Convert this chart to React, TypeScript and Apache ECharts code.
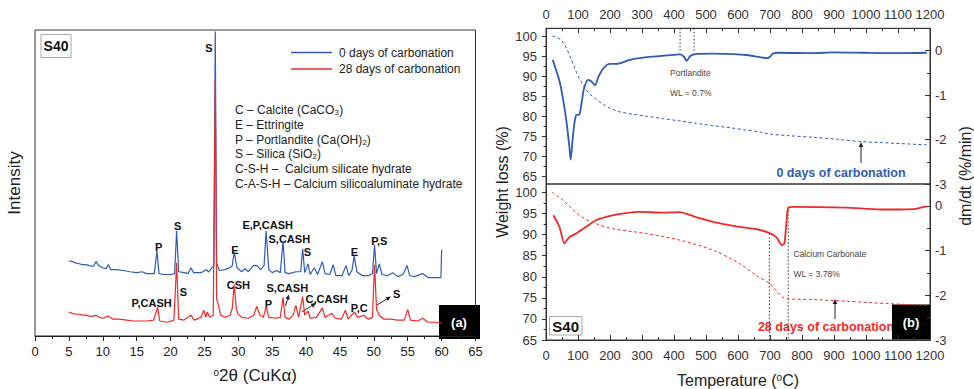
import React, { useEffect, useRef } from 'react';
import * as echarts from 'echarts';

// ---------- XRD (panel a) ----------
const xrdTickValues = [0, 5, 10, 15, 20, 25, 30, 35, 40, 45, 50, 55, 60, 65];
const xrd0days: number[][] = [
  [5, 24.6], [5.5, 24.3], [6, 23.9], [6.5, 23.6], [7, 23.3], [7.5, 23.3], [8, 23.0], [8.6, 22.7], [9, 24.3], [9.4, 23.0],
  [10, 22.3], [10.5, 22.0], [10.8, 23.3], [11.2, 21.7], [12, 21.7], [13, 21.4], [14, 21.0], [15, 20.7], [15.8, 21.0], [16.5, 20.4],
  [17.6, 20.4], [18.0, 27.8], [18.3, 20.4], [19, 20.1], [20, 20.1], [20.6, 20.4], [20.9, 34.3], [21.2, 21.0], [22, 20.7], [22.6, 20.4],
  [23, 22.3], [23.4, 20.7], [24.5, 20.7], [25.3, 21.7], [25.6, 20.9], [26, 22.0], [26.4, 23.0], [26.6, 99.5], [26.8, 23.9], [27.2, 21.4],
  [28, 21.7], [28.7, 22.3], [29.1, 22.9], [29.4, 27.5], [29.8, 22.3], [30.5, 21.0], [31, 22.0], [31.5, 21.0], [32.2, 23.0], [32.8, 23.0],
  [33.3, 21.7], [33.8, 23.0], [34.1, 34.3], [34.5, 21.7], [35, 20.7], [35.7, 21.4], [36.2, 20.7], [36.6, 31.1], [36.9, 20.7], [37.5, 20.4],
  [38.5, 21.0], [39.2, 21.0], [39.5, 28.5], [39.8, 20.7], [40.3, 23.6], [40.6, 20.1], [41.2, 22.3], [41.7, 20.1], [42.4, 24.3], [42.8, 20.4],
  [43.5, 20.1], [44, 23.3], [44.4, 19.7], [45.3, 19.7], [45.9, 23.0], [46.3, 19.7], [46.8, 21.7], [47.1, 26.2], [47.5, 21.0], [48.3, 19.7],
  [49.2, 19.7], [49.8, 20.4], [50.1, 29.8], [50.4, 20.4], [50.8, 23.6], [51.2, 20.1], [52, 19.7], [52.8, 20.7], [53.5, 19.4], [54.3, 20.1],
  [54.9, 23.0], [55.3, 19.7], [56, 19.4], [57.2, 20.4], [58, 19.1], [59, 19.1], [59.9, 19.1], [60, 28.2]
];
const xrd28days: number[][] = [
  [5, 7.8], [5.5, 7.4], [6, 7.1], [6.5, 7.1], [7, 6.8], [7.5, 6.8], [8, 6.5], [8.6, 6.5], [9, 6.8], [9.5, 6.1],
  [10, 5.8], [10.8, 6.5], [11.5, 5.5], [12.5, 5.5], [13.5, 5.2], [14.5, 4.9], [15.5, 4.9], [16.5, 4.9], [17.5, 5.2], [18.1, 9.4],
  [18.4, 4.9], [19.5, 4.5], [20.5, 5.2], [20.9, 23.9], [21.2, 5.5], [22, 5.2], [23, 6.8], [23.5, 5.2], [24.5, 6.1], [24.9, 8.4],
  [25.2, 6.1], [25.4, 7.8], [25.8, 6.1], [26.3, 6.8], [26.6, 83.8], [26.8, 12], [27, 10.7], [27.4, 6.8], [28, 6.1], [28.8, 6.8],
  [29.1, 9], [29.4, 16.8], [29.7, 9], [29.9, 7.4], [30.5, 6.1], [31.5, 5.8], [32.3, 6.8], [32.7, 9.7], [33.2, 6.8], [33.7, 6.1],
  [34.1, 9.7], [34.5, 6.1], [35.5, 5.8], [36.2, 6.1], [36.6, 12.6], [36.9, 6.1], [37.5, 5.5], [38.1, 6.8], [38.5, 10.0], [38.9, 6.1],
  [39.5, 12.9], [39.8, 6.8], [40.3, 8.1], [40.6, 5.8], [41.5, 6.1], [42.4, 9.1], [42.8, 6.1], [43.3, 6.8], [43.8, 7.4], [44.3, 5.8],
  [45.2, 5.5], [45.8, 8.4], [46.2, 5.5], [47.1, 7.8], [47.6, 6.1], [48.5, 6.8], [49.2, 5.5], [49.8, 6.1], [50.1, 23.3], [50.4, 8.7],
  [50.8, 6.8], [51.5, 5.5], [52.5, 5.5], [53.5, 5.2], [54.5, 5.2], [55, 8.7], [55.4, 5.2], [56.5, 4.9], [57.2, 5.8], [58, 4.5],
  [59, 4.5], [60, 4.2]
];
const phaseKey = [
  'C – Calcite (CaCO₃)',
  'E – Ettringite',
  'P – Portlandite (Ca(OH)₂)',
  'S – Silica (SiO₂)',
  'C-S-H –  Calcium silicate hydrate',
  'C-A-S-H – Calcium silicoaluminate hydrate'
];

// ---------- TGA / DTG (panel b) ----------
const wlTicks = [65, 70, 75, 80, 85, 90, 95, 100];
const wlMinorTicks = [67.5, 72.5, 77.5, 82.5, 87.5, 92.5, 97.5];
const dtgTicks = [-3, -2, -1, 0];
const dtgMinorTicks = [-2.5, -1.5, -0.5];

const tg0days: number[][] = [
  [20, 100.1], [45, 99.2], [60, 97.6], [75, 95.0], [90, 92.0], [104, 89.5], [120, 87.2], [136, 85.6], [160, 84.0], [177, 83.0],
  [200, 82.0], [229, 81.1], [270, 80.5], [313, 80.0], [365, 79.4], [417, 78.8], [470, 78.2], [522, 77.6], [575, 77.1], [626, 76.5],
  [670, 76.0], [699, 75.5], [760, 75.1], [835, 74.7], [910, 74.2], [991, 73.6], [1090, 73.2], [1190, 72.8]
];
const dtg0days: number[][] = [
  [21, -0.21], [44, -0.74], [62, -1.49], [73, -2.16], [77, -2.45], [85, -1.86], [94, -1.45], [104, -1.44], [111, -1.19], [119, -0.85],
  [132, -0.66], [143, -0.7], [153, -0.78], [164, -0.59], [179, -0.4], [200, -0.3], [221, -0.3], [262, -0.21], [315, -0.15], [378, -0.11],
  [419, -0.085], [431, -0.14], [440, -0.23], [450, -0.13], [466, -0.08], [523, -0.07], [585, -0.08], [627, -0.1], [669, -0.15], [692, -0.17],
  [700, -0.14], [709, -0.07], [731, -0.05], [835, -0.06], [898, -0.04], [991, -0.05], [1096, -0.06], [1190, -0.05]
];
const tg28days: number[][] = [
  [19, 100.1], [52, 98.2], [80, 96.2], [104, 94.6], [127, 93.5], [156, 92.6], [208, 91.4], [313, 90.25], [417, 88.7], [522, 86.3],
  [605, 83.1], [657, 80.3], [699, 78.4], [751, 74.8], [835, 74.6], [939, 74.2], [1075, 73.6], [1190, 73.2]
];
const dtg28days: number[][] = [
  [23, -0.21], [42, -0.47], [57, -0.84], [65, -0.77], [73, -0.7], [94, -0.62], [125, -0.47], [156, -0.32], [208, -0.21], [250, -0.16],
  [292, -0.135], [365, -0.15], [417, -0.14], [469, -0.25], [522, -0.36], [595, -0.46], [657, -0.52], [699, -0.61], [720, -0.7], [730, -0.82],
  [737, -0.88], [745, -0.84], [751, -0.4], [757, -0.04], [772, -0.02], [939, -0.04], [1043, -0.08], [1148, -0.07], [1190, -0.01]
];
const portlanditeBounds = [419, 463];
const carbonateBounds = [698, 757];

const BLUE = '#2F5DB3';
const RED = '#EE2A2A';
const FONT = '"Liberation Sans", Arial, sans-serif';

function arrow(x1: number, y1: number, x2: number, y2: number, color = '#222') {
  const ang = Math.atan2(y2 - y1, x2 - x1);
  const len = 5, w = 2.3;
  const bx = x2 - len * Math.cos(ang), by = y2 - len * Math.sin(ang);
  const px = -Math.sin(ang) * w, py = Math.cos(ang) * w;
  return [
    { type: 'line', silent: true, shape: { x1, y1, x2: bx, y2: by }, style: { stroke: color, lineWidth: 1 } },
    { type: 'polygon', silent: true, shape: { points: [[x2, y2], [bx + px, by + py], [bx - px, by - py]] }, style: { fill: color } }
  ];
}

function txt(x: number, y: number, text: string, opts: any = {}, rotation = 0) {
  return {
    type: 'text', silent: true, x, y, rotation,
    style: {
      text, fontFamily: FONT, fontSize: 11, fontWeight: 'bold', fill: '#111',
      align: 'center', verticalAlign: 'middle', ...opts
    }
  };
}

function dotted(xVals: number[], yTop: number[], yBottom: number[], xAxisIndex: number, yAxisIndex: number, name: string) {
  return xVals.map((xv, i) => ({
    name: name + i, type: 'line', xAxisIndex, yAxisIndex, symbol: 'none', silent: true,
    data: [[xv, yTop[i]], [xv, yBottom[i]]],
    lineStyle: { type: [1.5, 2], color: '#333', width: 1 }, z: 1
  }));
}

const peakLabels: [number, number, string][] = [
  [209, 48, 'S'], [158.7, 247, 'P'], [177.7, 226, 'S'], [267.7, 224.5, 'E,P,CASH'], [235, 250, 'E'],
  [289.3, 239.3, 'S,CASH'], [307.3, 252.3, 'S'], [354.3, 252.3, 'E'], [379.3, 241, 'P,S'],
  [238.3, 285.3, 'CSH'], [183.3, 291.7, 'S'], [151.7, 302.7, 'P,CASH'], [268.3, 304.3, 'P'],
  [287.3, 288.3, 'S,CASH'], [326.7, 299.3, 'C,CASH'], [359.3, 308.3, 'P,C'], [396.7, 294.3, 'S']
];

function buildOption() {
  const graphics: any[] = [];
  graphics.push({ type: 'rect', silent: true, shape: { x: 41, y: 34.5, width: 30, height: 23 }, style: { fill: '#fff', stroke: '#aaa', lineWidth: 1 } });
  graphics.push(txt(56, 46, 'S40', { fontSize: 14 }));
  phaseKey.forEach((s, i) => {
    graphics.push(txt(235, 110 + i * 14.8, s, { fontSize: 12, fontWeight: 'normal', align: 'left', fill: '#222' }));
  });
  peakLabels.forEach(([x, y, s]) => graphics.push(txt(x, y, s)));
  graphics.push(...arrow(285.5, 306, 289, 294.5));
  graphics.push(...arrow(302, 312, 316, 303));
  graphics.push(...arrow(377, 305, 391, 296.5));
  graphics.push({ type: 'rect', silent: true, shape: { x: 439, y: 305, width: 41, height: 34 }, style: { fill: '#000' } });
  graphics.push(txt(459, 322.5, '(a)', { fontSize: 13, fill: '#fff' }));

  graphics.push(txt(670, 73, 'Portlandite', { fontSize: 8.5, fontWeight: 'normal', align: 'left', fill: '#444' }));
  graphics.push(txt(670, 92.5, 'WL = 0.7%', { fontSize: 8.5, fontWeight: 'normal', align: 'left', fill: '#444' }));
  graphics.push(txt(793.5, 254, 'Calcium Carbonate', { fontSize: 8.5, fontWeight: 'normal', align: 'left', fill: '#444' }));
  graphics.push(txt(793.5, 274, 'WL = 3.78%', { fontSize: 8.5, fontWeight: 'normal', align: 'left', fill: '#444' }));
  graphics.push(txt(841, 173, '0 days of carbonation', { fontSize: 12.5, fill: BLUE }));
  graphics.push(...arrow(861, 163, 861, 142));
  graphics.push(txt(826, 327, '28 days of carbonation', { fontSize: 12.5, fill: RED }));
  graphics.push(...arrow(835, 319, 835, 299));
  graphics.push({ type: 'rect', silent: true, shape: { x: 892, y: 304.5, width: 38, height: 35 }, style: { fill: '#000' } });
  graphics.push(txt(911, 322, '(b)', { fontSize: 13, fill: '#fff' }));
  graphics.push({ type: 'rect', silent: true, shape: { x: 549.5, y: 316.5, width: 32.5, height: 18.5 }, style: { fill: '#fff', stroke: '#aaa', lineWidth: 1 } });
  graphics.push(txt(565.7, 326, 'S40', { fontSize: 15 }));
  graphics.push(txt(502, 182, 'Weight loss (%)', { fontSize: 16, fontWeight: 'normal', fill: '#222' }, Math.PI / 2));
  graphics.push(txt(965, 176, 'dm/dt (%/min)', { fontSize: 16, fontWeight: 'normal', fill: '#222' }, Math.PI / 2));

  const baseLabel = { fontFamily: FONT, fontSize: 13, color: '#333' };
  const plainNum = (v: number) => String(v);
  const tempAxis = (gridIndex: number, position: 'top' | 'bottom', showName: boolean) => ({
    type: 'value', gridIndex, position, min: 0, max: 1200, interval: 100,
    axisLine: { show: true, onZero: false, lineStyle: { color: '#333', width: 1 } },
    axisTick: { show: true, inside: true, length: 5, lineStyle: { color: '#333' } },
    minorTick: { show: true, splitNumber: 2, length: 3, lineStyle: { color: '#333' } },
    axisLabel: { ...baseLabel, margin: position === 'top' ? 7 : 9, formatter: plainNum },
    splitLine: { show: false },
    name: showName ? 'Temperature ({o|o}C)' : '',
    nameLocation: 'middle', nameGap: 32,
    nameTextStyle: { fontFamily: FONT, fontSize: 16, color: '#222', rich: { o: { fontFamily: FONT, fontSize: 10, verticalAlign: 'top', color: '#222' } } }
  });
  const wlAxis = (gridIndex: number, min: number, max: number) => ({
    type: 'value', gridIndex, position: 'left', min, max,
    axisLine: { show: true, onZero: false, lineStyle: { color: '#333' } },
    axisTick: { show: true, inside: false, length: 4, customValues: wlTicks, lineStyle: { color: '#333' } },
    axisLabel: { ...baseLabel, margin: 9, customValues: wlTicks, formatter: plainNum },
    splitLine: { show: false }
  });
  const wlHiddenAxis = (gridIndex: number, min: number, max: number) => ({
    type: 'value', gridIndex, position: 'left', min, max,
    axisLine: { show: false, onZero: false }, axisTick: { show: false }, axisLabel: { show: false }, splitLine: { show: false }
  });
  const wlMinorAxis = (gridIndex: number, min: number, max: number) => ({
    type: 'value', gridIndex, position: 'left', min, max,
    axisLine: { show: false, onZero: false },
    axisTick: { show: true, inside: false, length: 2.5, customValues: wlMinorTicks, lineStyle: { color: '#333' } },
    axisLabel: { show: false },
    splitLine: { show: false }
  });
  const dtgAxis = (gridIndex: number, max: number) => ({
    type: 'value', gridIndex, position: 'right', min: -3, max,
    axisLine: { show: true, onZero: false, lineStyle: { color: '#333' } },
    axisTick: { show: true, inside: true, length: 5, customValues: dtgTicks, lineStyle: { color: '#333' } },
    axisLabel: { ...baseLabel, margin: 5, customValues: dtgTicks, formatter: plainNum },
    splitLine: { show: false }
  });
  const dtgMinorAxis = (gridIndex: number, max: number) => ({
    type: 'value', gridIndex, position: 'right', min: -3, max,
    axisLine: { show: false, onZero: false },
    axisTick: { show: true, inside: true, length: 3, customValues: dtgMinorTicks, lineStyle: { color: '#333' } },
    axisLabel: { show: false },
    splitLine: { show: false }
  });

  return {
    animation: false,
    backgroundColor: '#fff',
    textStyle: { fontFamily: FONT },
    grid: [
      { left: 35, top: 30, width: 440.5, height: 309, show: true, borderColor: '#333', borderWidth: 1, backgroundColor: 'transparent' },
      { left: 546, top: 28.3, width: 384, height: 155.7, show: true, borderColor: '#333', borderWidth: 1, backgroundColor: 'transparent' },
      { left: 546, top: 184, width: 384, height: 156, show: true, borderColor: '#333', borderWidth: 1, backgroundColor: 'transparent' },
      { left: 546, top: 28.3, width: 384, height: 155.7, show: false }
    ],
    legend: {
      data: ['0 days of carbonation', '28 days of carbonation'],
      left: 286, top: 40.5, orient: 'vertical', icon: 'rect', itemWidth: 41, itemHeight: 1.6, itemGap: 2.5,
      textStyle: { fontFamily: FONT, fontSize: 12, color: '#222', lineHeight: 14, padding: [0, 0, 0, 2] },
      selectedMode: false
    },
    xAxis: [
      {
        type: 'value', gridIndex: 0, min: 0, max: 65, interval: 5,
        axisLine: { show: true, onZero: false, lineStyle: { color: '#222' } },
        axisTick: { show: true, inside: false, length: 5, lineStyle: { color: '#222' }, customValues: xrdTickValues },
        minorTick: { show: true, splitNumber: 2, length: 3, lineStyle: { color: '#222' } },
        axisLabel: { fontFamily: FONT, fontSize: 13, color: '#222', margin: 9 },
        splitLine: { show: false },
        name: '{o|o}2θ (CuKα)', nameLocation: 'middle', nameGap: 31,
        nameTextStyle: { fontFamily: FONT, fontSize: 17, color: '#222', rich: { o: { fontFamily: FONT, fontSize: 10, verticalAlign: 'top', color: '#222' } } }
      },
      tempAxis(1, 'top', false),
      tempAxis(2, 'bottom', true),
      { type: 'value', gridIndex: 3, min: 0, max: 1200, show: false }
    ],
    yAxis: [
      {
        type: 'value', gridIndex: 0, min: 0, max: 100,
        axisLine: { show: false, onZero: false }, axisTick: { show: false }, axisLabel: { show: false }, splitLine: { show: false },
        name: 'Intensity', nameLocation: 'middle', nameGap: 12, nameRotate: 90,
        nameTextStyle: { fontFamily: FONT, fontSize: 17, color: '#222' }
      },
      wlHiddenAxis(1, 63, 102),
      dtgAxis(1, 0.5),
      wlAxis(2, 65, 102),
      dtgAxis(2, 0.49),
      dtgMinorAxis(1, 0.5),
      wlMinorAxis(2, 65, 102),
      dtgMinorAxis(2, 0.49),
      wlAxis(3, 63, 102),
      wlMinorAxis(3, 63, 102)
    ],
    series: [
      { name: '0 days of carbonation', type: 'line', xAxisIndex: 0, yAxisIndex: 0, data: xrd0days, symbol: 'none', color: BLUE, lineStyle: { width: 1.2, color: BLUE }, z: 2 },
      { name: '28 days of carbonation', type: 'line', xAxisIndex: 0, yAxisIndex: 0, data: xrd28days, symbol: 'none', color: RED, lineStyle: { width: 1.2, color: RED }, z: 3 },
      { name: 'TG 0 days', type: 'line', xAxisIndex: 1, yAxisIndex: 1, data: tg0days, symbol: 'none', smooth: 0.3, lineStyle: { width: 1, color: BLUE, type: [3, 2.5] }, z: 2 },
      { name: 'DTG 0 days', type: 'line', xAxisIndex: 1, yAxisIndex: 2, data: dtg0days, symbol: 'none', smooth: 0.25, lineStyle: { width: 1.8, color: BLUE }, z: 3 },
      { name: 'TG 28 days', type: 'line', xAxisIndex: 2, yAxisIndex: 3, data: tg28days, symbol: 'none', smooth: 0.3, lineStyle: { width: 1, color: RED, type: [3, 2.5] }, z: 2 },
      { name: 'DTG 28 days', type: 'line', xAxisIndex: 2, yAxisIndex: 4, data: dtg28days, symbol: 'none', smooth: 0.2, lineStyle: { width: 1.8, color: RED }, z: 3 },
      ...dotted(portlanditeBounds, [0.5, 0.5], [-0.06, -0.06], 1, 2, 'portlandite'),
      ...dotted(carbonateBounds, [-0.62, -0.03], [-3, -3], 2, 4, 'carbonate')
    ],
    graphic: graphics
  };
}

export default function App() {
  const ref = useRef<HTMLDivElement>(null);
  useEffect(() => {
    const chart = echarts.init(ref.current!, null, { renderer: 'svg' });
    chart.setOption(buildOption() as any);
    return () => chart.dispose();
  }, []);
  return <div ref={ref} style={{ position: 'fixed', left: 0, top: 0, width: 974, height: 389, background: '#fff' }} />;
}
